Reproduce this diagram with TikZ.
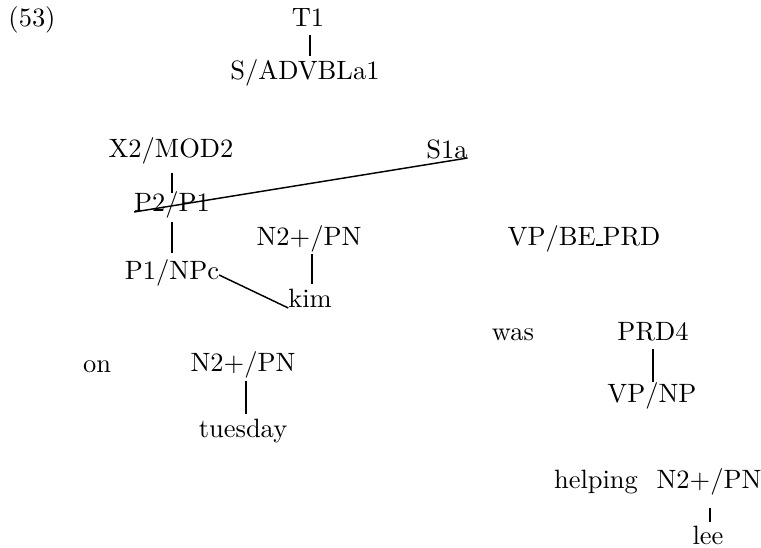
\documentclass[tikz,border=0pt]{standalone}
\usetikzlibrary{calc}
\begin{document}
\begin{tikzpicture}[x=0.3774pt,y=-0.3774pt,
  lbl/.style={anchor=base,inner sep=0pt,outer sep=0pt},
  edge/.style={line width=0.55pt},
  thickedge/.style={line width=1.0pt}]
\useasboundingbox (0,0) rectangle (761,548);

% labels, placed by their baselines
\node[lbl] (ex)   at (32,26)   {(53)};
\node[lbl] (t1)   at (308,26)  {T1};
\node[lbl] (sadv) at (305,80)  {S/ADVBLa1};
\node[lbl] (x2)   at (171,157) {X2/MOD2};
\node[lbl] (s1a)  at (447,158) {S1a};
\node[lbl] (p2)   at (172,212) {P2/P1};
\node[lbl] (npa)  at (309,246) {N2+/PN};
\node[lbl] (vpbe) at (584,246) {VP/BE\rule{2.6pt}{0.7pt}PRD};
\node[lbl] (p1)   at (172,280) {P1/NPc};
\node[lbl] (kim)  at (310,308) {kim};
\node[lbl] (was)  at (513,341) {was};
\node[lbl] (prd)  at (653,341) {PRD4};
\node[lbl] (on)   at (97,373)  {on};
\node[lbl] (npb)  at (243,372) {N2+/PN};
\node[lbl] (vpnp) at (652,403) {VP/NP};
\node[lbl] (tue)  at (243,438) {tuesday};
\node[lbl] (help) at (596,489) {helping};
\node[lbl] (npc)  at (709,489) {N2+/PN};
\node[lbl] (lee)  at (708,545) {lee};

% branches
\draw[edge] ($(t1.base)+(2,9)$) -- ($(sadv.base)+(5,-24)$);
\draw[edge] ($(x2.base)+(1,16)$) -- ($(p2.base)+(0,-19)$);
\draw[edge] ($(p2.base)+(0,10)$) -- ($(p1.base)+(0,-27)$);
\draw[edge] (s1a.base east) -- (p2.base west);
\draw[edge] ($(npa.base)+(3,8)$) -- ($(kim.base)+(2,-24)$);
\draw[edge] ($(p1.base east)+(0,-5)$) -- (kim.base west);
\draw[edge] ($(prd.base)+(0,8)$) -- ($(vpnp.base)+(1,-21)$);
\draw[thickedge] ($(npb.base)+(3,9)$) -- ($(tue.base)+(3,-24)$);
\draw[thickedge] ($(npc.base)+(1,19)$) -- ($(lee.base)+(2,-23)$);
\end{tikzpicture}
\end{document}
